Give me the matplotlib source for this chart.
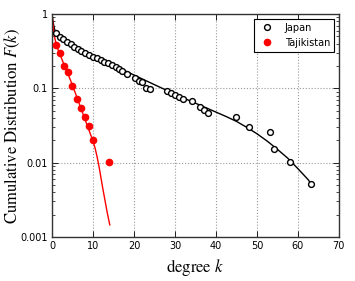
import matplotlib
matplotlib.use("Agg")
import matplotlib.pyplot as plt
from matplotlib.ticker import FixedLocator, FixedFormatter, LogLocator, NullFormatter

japan_k = [1.0, 1.95, 2.8, 3.6, 4.55, 5.45, 6.3, 7.15, 8.1, 9.0, 9.9, 10.9, 11.9,
           12.8, 13.7, 14.6, 15.5, 16.3, 17.2, 18.4, 20.2, 21.2, 22.0, 22.9, 24.0,
           28.0, 29.0, 30.0, 31.0, 32.0, 34.1, 36.1, 37.1, 38.1, 45.0, 48.0, 53.2,
           54.1, 58.0, 63.1]
japan_F = [0.55, 0.486, 0.457, 0.425, 0.392, 0.364, 0.339, 0.322, 0.303, 0.279,
           0.267, 0.254, 0.242, 0.229, 0.218, 0.205, 0.193, 0.181, 0.173, 0.155,
           0.137, 0.127, 0.120, 0.100, 0.098, 0.092, 0.086, 0.082, 0.076, 0.071,
           0.0665, 0.0553, 0.0504, 0.0464, 0.0406, 0.0305, 0.0255, 0.0153, 0.0102,
           0.0051]

# Japan: fitted curve
japan_fit_k = [0, 0.2, 0.5, 1, 2, 3, 5, 7.5, 10, 12.5, 15, 17.5, 20, 22.5, 25, 27.5,
               30, 32.5, 35, 37.5, 40, 42.5, 45, 47.5, 50, 52.5, 55, 57.5, 60, 62.5,
               63.2]
japan_fit_F = [1.0, 0.832, 0.661, 0.537, 0.479, 0.442, 0.380, 0.324, 0.275, 0.237,
               0.204, 0.176, 0.151, 0.130, 0.112, 0.0966, 0.0832, 0.0724, 0.0631,
               0.0550, 0.0479, 0.0417, 0.0359, 0.0299, 0.0245, 0.0195, 0.0151,
               0.0115, 0.0083, 0.0059, 0.0052]

# Tajikistan: observed points and fitted curve
taj_k = [1, 2, 3, 4, 5, 6, 7, 8, 9, 10, 14]
taj_F = [0.38, 0.296, 0.198, 0.165, 0.106, 0.072, 0.055, 0.041, 0.031, 0.0204, 0.0102]

taj_fit_k = [0, 0.25, 0.5, 1, 1.5, 2, 3, 4, 5, 6, 7, 8, 9, 10, 10.5, 11, 11.5, 12,
             12.5, 13, 13.5, 14.1]
taj_fit_F = [1.0, 0.708, 0.525, 0.398, 0.331, 0.282, 0.204, 0.151, 0.110, 0.0776,
             0.055, 0.0389, 0.0275, 0.0195, 0.0158, 0.0120, 0.0087, 0.0060, 0.00417,
             0.00295, 0.00209, 0.00145]

plt.rcParams['mathtext.fontset'] = 'stix'

fig = plt.figure(figsize=(3.55, 2.81), dpi=100)
ax = fig.add_axes([0.1465, 0.157, 0.808, 0.793])

ax.plot(japan_fit_k, japan_fit_F, color='black', lw=1.0, zorder=2)
ax.plot(taj_fit_k, taj_fit_F, color='red', lw=1.0, zorder=2)
ax.plot(japan_k, japan_F, 'o', mfc='white', mec='black', mew=1.0, ms=4.2,
        label='Japan', zorder=3)
ax.plot(taj_k, taj_F, 'o', color='red', mec='red', ms=4.5, label='Tajikistan', zorder=3)

ax.set_yscale('log')
ax.set_xlim(0, 70)
ax.set_ylim(0.001, 1)

ax.xaxis.set_major_locator(FixedLocator([0, 10, 20, 30, 40, 50, 60, 70]))
ax.yaxis.set_major_locator(FixedLocator([0.001, 0.01, 0.1, 1]))
ax.yaxis.set_major_formatter(FixedFormatter(['0.001', '0.01', '0.1', '1']))
ax.yaxis.set_minor_locator(LogLocator(base=10, subs=range(2, 10)))
ax.yaxis.set_minor_formatter(NullFormatter())

ax.tick_params(which='both', direction='in', top=True, right=True, labelsize=7,
               pad=3)
ax.tick_params(which='major', length=4, width=0.6)
ax.tick_params(which='minor', length=2, width=0.5)

ax.grid(True, which='major', color='#999999', linestyle=':', linewidth=0.8)
for s in ax.spines.values():
    s.set_linewidth(1.0)
    s.set_color('#333333')

lab_font = {'family': 'STIXGeneral', 'size': 12}
ax.set_xlabel('degree $k$', fontdict=lab_font, labelpad=4)
ax.set_ylabel('Cumulative Distribution $F(k)$', fontdict=lab_font)
ax.yaxis.set_label_coords(-0.105, 0.5)

leg = ax.legend(loc='upper right', numpoints=1, fontsize=7, fancybox=False,
                framealpha=1, edgecolor='black', borderaxespad=0.5,
                handletextpad=0.8, borderpad=0.4)
leg.get_frame().set_linewidth(0.8)

fig.savefig('out.png', dpi=100)
